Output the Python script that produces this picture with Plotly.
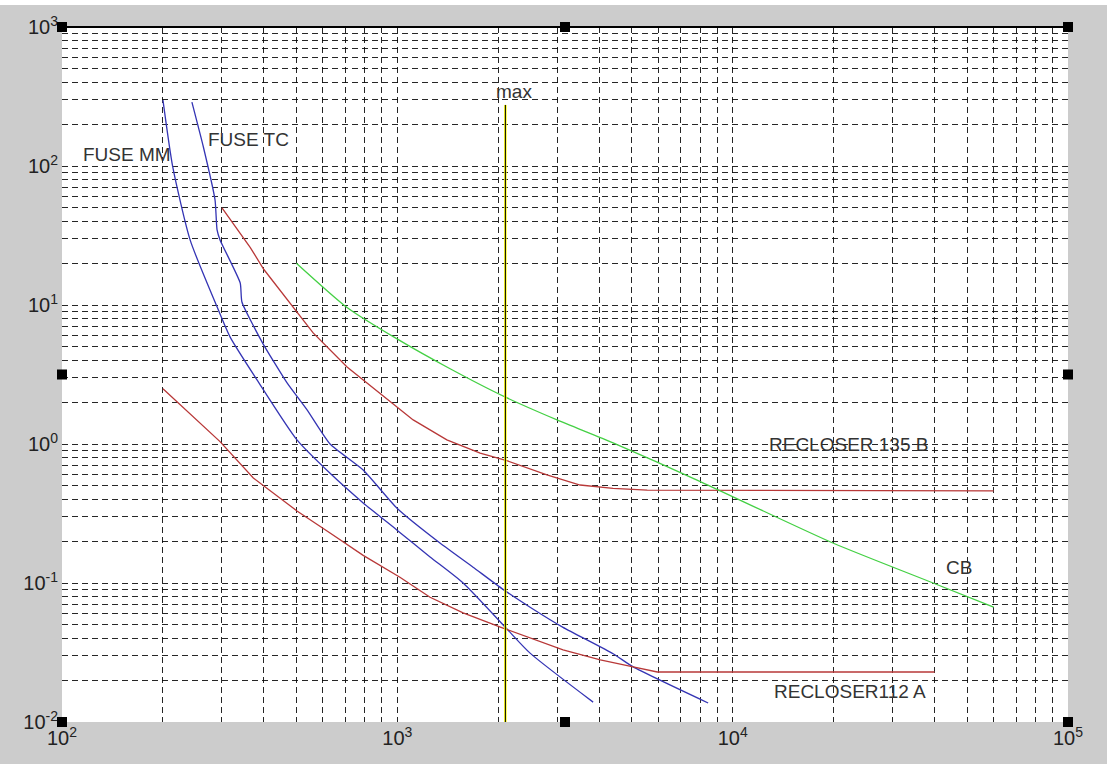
import math
import plotly.graph_objects as go

# ---- data (current in A, time in s) ----
mm_current = [200, 214, 241, 290, 317, 382, 502, 629, 791, 998, 1252, 1571, 2100, 2488, 3836]
mm_time = [298, 98, 29.4, 9.7, 5.9, 2.88, 1.07, 0.618, 0.377, 0.240, 0.154, 0.100, 0.048, 0.0313, 0.0139]

tc_current = [244, 264, 286, 290, 296, 340, 344, 397, 469, 538, 630, 791, 998, 1340, 1682, 2066, 2488, 3120, 4400, 5050, 8450]
tc_time = [288, 137, 57, 34.7, 29.4, 14.4, 10.5, 5.3, 2.75, 1.76, 1.0, 0.65, 0.345, 0.194, 0.130, 0.090, 0.067, 0.048, 0.031, 0.0249, 0.0137]

r135_current = [300, 364, 400, 450, 502, 561, 708, 888, 1115, 1405, 1766, 2094, 2793, 3508, 4400, 5560, 60000]
r135_time = [50, 26, 18, 12.5, 9.0, 6.3, 3.58, 2.33, 1.49, 1.07, 0.86, 0.767, 0.60, 0.507, 0.48, 0.465, 0.46]

r112_current = [200, 296, 372, 502, 630, 791, 1018, 1252, 1571, 2066, 3120, 4030, 5050, 5960, 40000]
r112_time = [2.5, 1.04, 0.57, 0.33, 0.229, 0.158, 0.110, 0.079, 0.061, 0.0474, 0.033, 0.028, 0.0249, 0.0229, 0.0229]

cb_current = [500, 708, 998, 1405, 2094, 2994, 4400, 7830, 19900, 39600, 60000]
cb_time = [20, 9.6, 5.7, 3.58, 2.18, 1.49, 1.02, 0.55, 0.194, 0.100, 0.067]

max_current = [2100, 2100]
max_time = [0.01, 275]

x_tickvals = [100, 1000, 10000, 100000]
x_ticktext = ["10<sup>2</sup>", "10<sup>3</sup>", "10<sup>4</sup>", "10<sup>5</sup>"]
y_tickvals = [0.01, 0.1, 1, 10, 100, 1000]
y_ticktext = ["10<sup>-2</sup>", "10<sup>-1</sup>", "10<sup>0</sup>", "10<sup>1</sup>", "10<sup>2</sup>", "10<sup>3</sup>"]

labels = [
    ("FUSE MM", 115, 122),
    ("FUSE TC", 270, 156),
    ("RECLOSER 135 B", 12770, 1.0),
    ("CB", 42900, 0.130),
    ("RECLOSER112 A", 13200, 0.0167),
    ("max", 1954, 344),
]

x_minor = [k * 10 ** e for e in range(2, 5) for k in range(2, 10)]
y_minor = [k * 10.0 ** e for e in range(-2, 3) for k in range(2, 10)]

BLUE = "#3434b4"
RED = "#b83838"
GREEN = "#44d044"

fig = go.Figure()
fig.add_trace(go.Scatter(x=mm_current, y=mm_time, mode="lines",
                         line=dict(color=BLUE, width=1.3, shape="spline", smoothing=0.6), name="FUSE MM"))
fig.add_trace(go.Scatter(x=tc_current, y=tc_time, mode="lines",
                         line=dict(color=BLUE, width=1.3, shape="spline", smoothing=0.5), name="FUSE TC"))
fig.add_trace(go.Scatter(x=r135_current, y=r135_time, mode="lines", line=dict(color=RED, width=1.3), name="RECLOSER 135 B"))
fig.add_trace(go.Scatter(x=r112_current, y=r112_time, mode="lines", line=dict(color=RED, width=1.3), name="RECLOSER 112 A"))
fig.add_trace(go.Scatter(x=cb_current, y=cb_time, mode="lines",
                         line=dict(color=GREEN, width=1.3, shape="spline", smoothing=0.6), name="CB"))
fig.add_trace(go.Scatter(x=max_current, y=max_time, mode="lines", line=dict(color="#ffff00", width=2.5), name="max"))
fig.add_trace(go.Scatter(x=max_current, y=max_time, mode="lines", line=dict(color="black", width=1), name="max edge"))

for txt, xv, yv in labels:
    fig.add_annotation(x=math.log10(xv), y=math.log10(yv), text=txt, showarrow=False,
                       xanchor="left", yanchor="middle", borderpad=0,
                       font=dict(size=19, color="#333333", family="Liberation Sans, Arial"))

GRID = "rgba(0,0,0,0.85)"
DASH = "6px,4px"
tickfont = dict(size=20, color="#222222", family="Liberation Sans, Arial")

fig.update_xaxes(type="log", range=[2, 5], tickvals=x_tickvals, ticktext=x_ticktext,
                 showgrid=True, gridcolor=GRID, griddash=DASH, gridwidth=1,
                 minor=dict(tickvals=x_minor, showgrid=True, gridcolor=GRID, griddash=DASH, gridwidth=1, ticks=""),
                 zeroline=False, showline=False, ticks="", tickfont=tickfont, automargin=False,
                 ticklabelstandoff=2)
fig.update_yaxes(type="log", range=[-2, 3], tickvals=y_tickvals, ticktext=y_ticktext,
                 showgrid=True, gridcolor=GRID, griddash=DASH, gridwidth=1,
                 minor=dict(tickvals=y_minor, showgrid=True, gridcolor=GRID, griddash=DASH, gridwidth=1, ticks=""),
                 zeroline=False, showline=False, ticks="", tickfont=tickfont, ticklabelstandoff=3,
                 automargin=False)

shapes = []
# top border of axes
shapes.append(dict(type="line", xref="x domain", yref="y domain", x0=0, x1=1, y0=1, y1=1,
                   line=dict(color="black", width=2), layer="above"))
# white strip at the very top of the figure
shapes.append(dict(type="rect", xref="paper", yref="paper", x0=-0.1, x1=1.1,
                   y0=1 + 22 / 695, y1=1 + 30 / 695, fillcolor="white", line=dict(width=0), layer="below"))
# selection handles
for fx, fy in [(0, 0), (0.5, 0), (1, 0), (0, 0.5), (1, 0.5), (0, 1), (0.5, 1), (1, 1)]:
    shapes.append(dict(type="rect", xref="x domain", yref="y domain", xsizemode="pixel", ysizemode="pixel",
                       xanchor=fx, yanchor=fy, x0=-5, x1=5, y0=-5, y1=5,
                       fillcolor="black", line=dict(width=0), layer="above"))

fig.update_layout(width=1107, height=764, showlegend=False,
                  margin=dict(l=62, r=39, t=27, b=42, autoexpand=False),
                  paper_bgcolor="#cccccc", plot_bgcolor="white",
                  shapes=shapes)

fig.write_html("out.html", config={"displayModeBar": False},
               post_script="document.body.style.margin='0';document.body.style.overflow='hidden';")
